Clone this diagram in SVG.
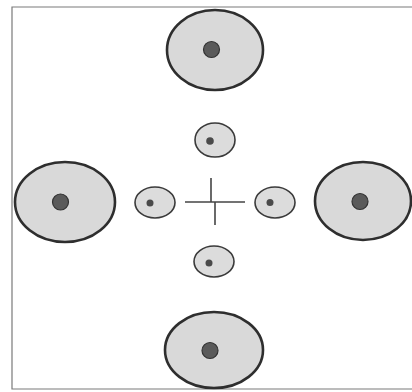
<svg xmlns="http://www.w3.org/2000/svg" width="412" height="392" viewBox="0 0 412 392">
<style>
.big{fill:#d9d9d9;stroke:#2e2e2e;stroke-width:2.6}
.small{fill:#dcdcdc;stroke:#3a3a3a;stroke-width:1.6}
.dotb{fill:#5a5a5a;stroke:#333;stroke-width:1.2}
.dots{fill:#4a4a4a}
.ln{stroke:#444;stroke-width:1.6;fill:none}
</style>
<rect width="412" height="392" fill="#fff"/>
<path d="M412,7 H12 V389 H412" fill="none" stroke="#7a7a7a" stroke-width="1.2"/>
<g id="node-top"><ellipse class="big" cx="215" cy="50" rx="48" ry="40"/><circle class="dotb" cx="211.5" cy="49.5" r="8"/></g>
<g id="node-left"><ellipse class="big" cx="65" cy="202" rx="50" ry="40"/><circle class="dotb" cx="60.5" cy="202" r="8"/></g>
<g id="node-right"><ellipse class="big" cx="363" cy="201" rx="48" ry="39"/><circle class="dotb" cx="360" cy="201.5" r="8"/></g>
<g id="node-bottom"><ellipse class="big" cx="214" cy="350" rx="49" ry="38"/><circle class="dotb" cx="210" cy="350.5" r="8"/></g>
<g id="node-top-small"><ellipse class="small" cx="215" cy="140" rx="20" ry="17"/><circle class="dots" cx="210" cy="141" r="3.8"/></g>
<g id="node-left-small"><ellipse class="small" cx="155" cy="202.5" rx="20" ry="15.5"/><circle class="dots" cx="150" cy="203" r="3.5"/></g>
<g id="node-right-small"><ellipse class="small" cx="275" cy="202.5" rx="20" ry="15.5"/><circle class="dots" cx="270" cy="202.5" r="3.5"/></g>
<g id="node-bottom-small"><ellipse class="small" cx="214" cy="261.5" rx="20" ry="15.5"/><circle class="dots" cx="209" cy="263" r="3.5"/></g>
<g id="connectors">
<path class="ln" d="M185,202 H245"/>
<path class="ln" d="M211,178 V202"/>
<path class="ln" d="M215,202 V225"/>
</g>
</svg>
